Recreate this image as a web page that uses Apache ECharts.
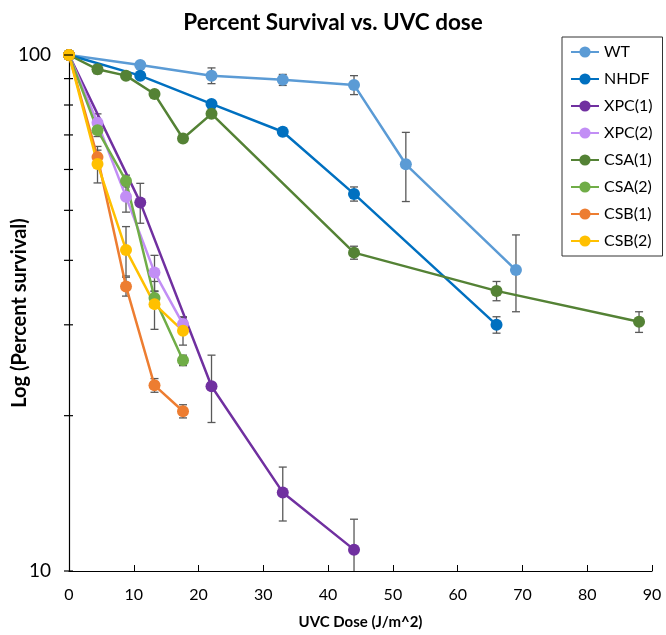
<!DOCTYPE html>
<html>
<head>
<meta charset="utf-8">
<script src="https://cdn.jsdelivr.net/npm/echarts@6/dist/echarts.min.js"></script>
<style>html,body{margin:0;padding:0;background:#fff}#c{width:666px;height:635px}</style>
</head>
<body>
<div id="c"></div>
<script>
const xTicks = [0, 10, 20, 30, 40, 50, 60, 70, 80, 90];
const yTicks = [10, 20, 30, 40, 50, 60, 70, 80, 90, 100];

const wtDose = [0, 11, 22, 33, 44, 52, 69];
const wtVal  = [100, 95.6, 91.2, 89.5, 87.5, 61.4, 38.3];
const wtErr  = [0, 0.6, 3.2, 2.2, 3.7, 9.4, 6.5];

const nhdfDose = [0, 11, 22, 33, 44, 66];
const nhdfVal  = [100, 91.2, 80.4, 71.0, 53.8, 30.0];
const nhdfErr  = [0, 0, 0.8, 1.2, 1.7, 1.1];

const xpc1Dose = [0, 11, 22, 33, 44];
const xpc1Val  = [100, 51.8, 22.8, 14.2, 11.0];
const xpc1Err  = [0, 4.6, 3.4, 1.7, 1.6];

const xpc2Dose = [0, 4.4, 8.8, 13.2, 17.6];
const xpc2Val  = [100, 73.9, 53.1, 37.9, 30.1];
const xpc2Err  = [0, 3.0, 3.5, 3.0, 1.0];

const csa1Dose = [0, 4.4, 8.8, 13.2, 17.6, 22, 44, 66, 88];
const csa1Val  = [100, 93.8, 91.2, 84.0, 68.9, 76.9, 41.4, 34.9, 30.4];
const csa1Err  = [0, 1.8, 0.5, 1.2, 1.0, 1.0, 1.2, 1.5, 1.4];

const csa2Dose = [0, 4.4, 8.8, 13.2, 17.6];
const csa2Val  = [100, 71.5, 57.0, 33.8, 25.6];
const csa2Err  = [0, 2.0, 1.5, 1.0, 0.6];

const csb1Dose = [0, 4.4, 8.8, 13.2, 17.6];
const csb1Val  = [100, 63.4, 35.6, 22.9, 20.4];
const csb1Err  = [0, 2.0, 1.5, 0.7, 0.6];

const csb2Dose = [0, 4.4, 8.8, 13.2, 17.6];
const csb2Val  = [100, 61.5, 41.9, 32.9, 29.2];
const csb2Err  = [0, 5.0, 4.6, 3.5, 1.8];

const seriesDefs = [
  {name: 'WT',     dose: wtDose,   val: wtVal,   err: wtErr,   color: '#5B9BD5'},
  {name: 'NHDF',   dose: nhdfDose, val: nhdfVal, err: nhdfErr, color: '#0070C0'},
  {name: 'XPC(1)', dose: xpc1Dose, val: xpc1Val, err: xpc1Err, color: '#7030A0'},
  {name: 'XPC(2)', dose: xpc2Dose, val: xpc2Val, err: xpc2Err, color: '#C28EF5'},
  {name: 'CSA(1)', dose: csa1Dose, val: csa1Val, err: csa1Err, color: '#548235'},
  {name: 'CSA(2)', dose: csa2Dose, val: csa2Val, err: csa2Err, color: '#70AD47'},
  {name: 'CSB(1)', dose: csb1Dose, val: csb1Val, err: csb1Err, color: '#ED7D31'},
  {name: 'CSB(2)', dose: csb2Dose, val: csb2Val, err: csb2Err, color: '#FFC000'}
];

const FONT = 'Lato, "Open Sans", sans-serif';

function errRender(params, api) {
  const x = api.value(0), v = api.value(1), e = api.value(2);
  if (!e) return null;
  const top = api.coord([x, v + e]);
  const bot = api.coord([x, Math.max(v - e, 10)]);
  const cap = 4;
  const st = {stroke: '#595959', lineWidth: 1.3};
  const children = [
    {type: 'line', shape: {x1: top[0], y1: top[1], x2: bot[0], y2: bot[1]}, style: st},
    {type: 'line', shape: {x1: top[0] - cap, y1: top[1], x2: top[0] + cap, y2: top[1]}, style: st}
  ];
  if (v - e >= 10) {
    children.push({type: 'line', shape: {x1: bot[0] - cap, y1: bot[1], x2: bot[0] + cap, y2: bot[1]}, style: st});
  }
  return {type: 'group', children};
}

const series = [];
seriesDefs.forEach(s => {
  series.push({
    type: 'custom', name: s.name + ' err', z: 3, silent: true, clip: false,
    renderItem: errRender,
    data: s.dose.map((d, i) => [d, s.val[i], s.err[i]])
  });
});
seriesDefs.forEach(s => {
  series.push({
    type: 'line', name: s.name, z: 4,
    data: s.dose.map((d, i) => [d, s.val[i]]),
    symbol: 'circle', symbolSize: 12,
    itemStyle: {color: s.color},
    lineStyle: {color: s.color, width: 2.5},
    animation: false
  });
});
series.push({
  type: 'custom', name: 'yticks', z: 5, silent: true, clip: false,
  renderItem: function (params, api) {
    const p = api.coord([0, api.value(1)]);
    return {type: 'line', shape: {x1: p[0] - 5, y1: p[1], x2: p[0] + 4, y2: p[1]},
            style: {stroke: '#000', lineWidth: 1.2}};
  },
  data: yTicks.map(v => [0, v])
});

const chart = echarts.init(document.getElementById('c'));
chart.setOption({
  animation: false,
  backgroundColor: '#fff',
  title: {
    text: 'Percent Survival vs. UVC dose',
    left: 'center', top: 6,
    textStyle: {fontFamily: FONT, fontWeight: 'bold', fontSize: 22.5, color: '#000'}
  },
  legend: {
    data: seriesDefs.map(s => s.name),
    orient: 'vertical',
    left: 562, top: 37,
    padding: [6, 10, 6, 8],
    itemGap: 9,
    itemWidth: 28, itemHeight: 14,
    borderColor: '#333', borderWidth: 1,
    textStyle: {fontFamily: FONT, fontSize: 16, color: '#000', lineHeight: 18}
  },
  grid: {left: 69, right: 14, top: 55, bottom: 64, containLabel: false, outerBoundsMode: 'none'},
  xAxis: {
    type: 'value', min: 0, max: 90, interval: 10,
    name: 'UVC Dose (J/m^2)', nameLocation: 'middle', nameGap: 44,
    nameTextStyle: {fontFamily: FONT, fontWeight: 'bold', fontSize: 15, color: '#000'},
    axisLine: {lineStyle: {color: '#000', width: 1.2}},
    axisTick: {show: true, inside: true, length: 6, lineStyle: {color: '#000'}},
    axisLabel: {fontFamily: FONT, fontSize: 16, color: '#000', margin: 16,
      customValues: xTicks},
    splitLine: {show: false}
  },
  yAxis: {
    type: 'log', logBase: 10, min: 10, max: 100,
    name: 'Log (Percent survival)', nameLocation: 'middle', nameGap: 39,
    nameMoveOverlap: false,
    nameTextStyle: {fontFamily: FONT, fontWeight: 'bold', fontSize: 20, color: '#000'},
    axisLine: {show: true, lineStyle: {color: '#000', width: 1.2}},
    axisTick: {show: false},
    axisLabel: {fontFamily: FONT, fontSize: 19, color: '#000', margin: 18},
    splitLine: {show: false}
  },
  series: series
});
</script>
</body>
</html>
